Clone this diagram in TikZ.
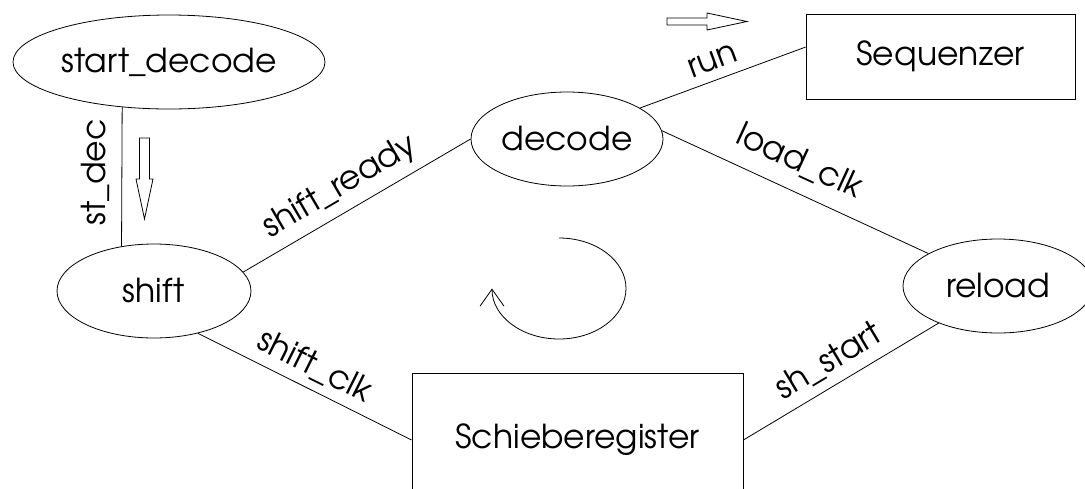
\documentclass[tikz,border=0pt]{standalone}
\usepackage{fontspec}
\setmainfont{texgyreadventor-regular.otf}
\usetikzlibrary{shapes.geometric,arrows.meta}

\begin{document}
\begin{tikzpicture}[x=1pt,y=-1pt,
  every node/.style={font=\fontsize{33}{36}\selectfont, inner sep=0pt},
  state/.style={ellipse, draw, line width=0.8pt, minimum height=94pt},
  unit/.style={rectangle, draw, line width=0.8pt},
  wire/.style={line width=0.8pt},
  lbl/.style={sloped, inner sep=0pt},
  hollow/.style={draw, line width=0.8pt, fill=white}]

\useasboundingbox (0,0) rectangle (1085,488);
\clip (0,0) rectangle (1085,488);

% states
\node[state, minimum width=312pt] (startdec) at (169,62)  {start\_decode};
\node[state, minimum width=194pt] (shift)    at (154,291) {shift};
\node[state, minimum width=192pt] (decode)   at (567,139) {decode};
\node[state, minimum width=190pt] (reload)   at (998,286) {reload};

% functional units
\node[unit, minimum width=269pt, minimum height=85pt]  (seq)    at (940.5,56.5) {Sequenzer};
\node[unit, minimum width=331pt, minimum height=134pt] (schiebe) at (577.5,440) {Schieberegister};

% signals
\draw[wire] (shift.126) -- node[lbl, pos=0.53, above=12pt] {st\_dec} (startdec.224);
\draw[wire] (shift.12) -- node[lbl, pos=0.48, above=9pt] {shift\_ready} (decode.180);
\draw[wire] (decode.23) -- node[lbl, pos=0.48, above=9pt] {run} (seq.176);
\draw[wire] (decode.5) -- node[lbl, pos=0.47, above=15pt] {load\_clk} (reload.155);
\draw[wire] (schiebe.east) -- node[lbl, pos=0.5, above=9pt] {sh\_start} (reload.212);
\draw[wire] (shift.316) -- node[lbl, pos=0.5, above=8pt] {shift\_clk} (schiebe.west);

% hollow direction arrows
\draw[hollow] (667,18) -- (707,18) -- (707,13) -- (747,21.5) -- (707,30) -- (707,25) -- (667,25) -- cycle;
\draw[hollow] (139.5,138) -- (149.5,138) -- (149.5,179) -- (153,179) -- (144.5,219) -- (136,179) -- (139.5,179) -- cycle;

% circulation arrow
\draw[wire, -{Straight Barb[length=17pt, width=24pt]}] (559,238)
  arc[start angle=90, end angle=-180, x radius=67pt, y radius=50.5pt];
\end{tikzpicture}
\end{document}
